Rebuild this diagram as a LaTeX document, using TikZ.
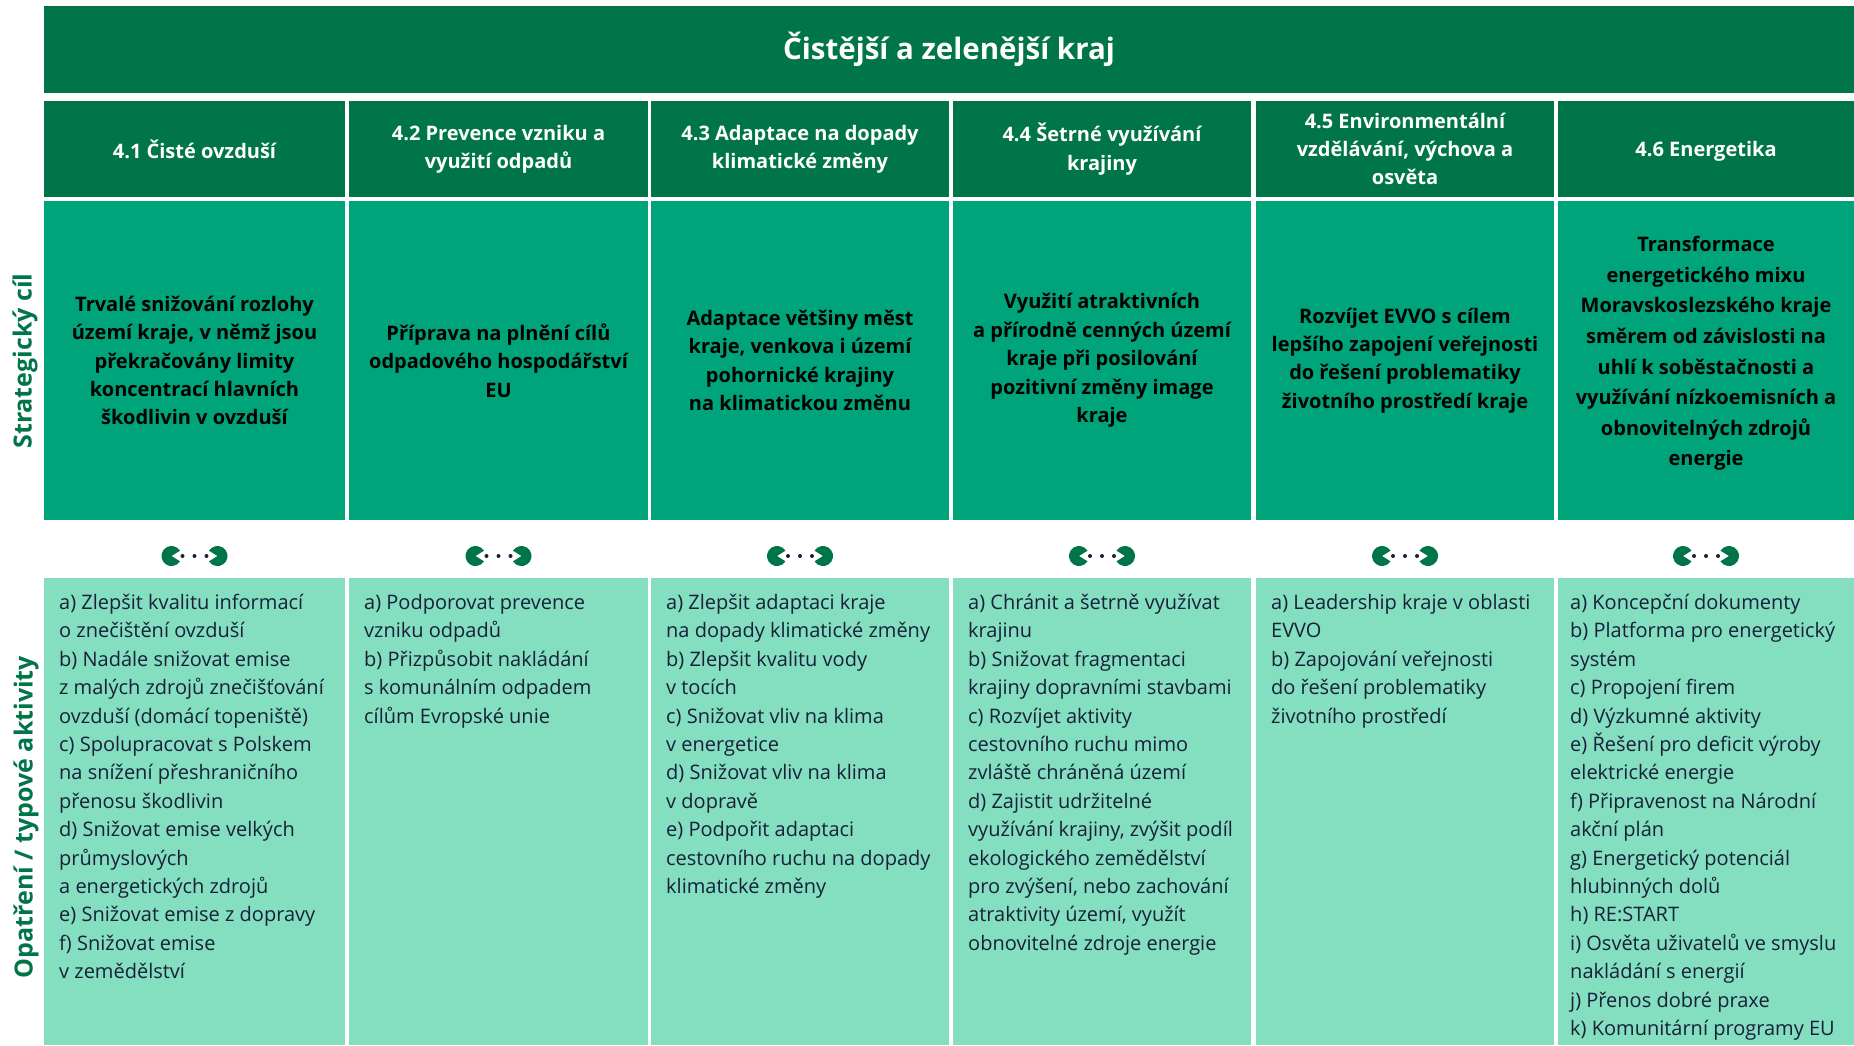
\documentclass[tikz,border=0pt]{standalone}
\usepackage{fontspec}
\usepackage{xcolor}
\usepackage{tikz}
\setmainfont{Open Sans}

\definecolor{titlegreen}{RGB}{0,117,74}
\definecolor{goalgreen}{RGB}{0,164,122}
\definecolor{actmint}{RGB}{132,222,192}
\definecolor{actnavy}{RGB}{24,32,58}

\tikzset{
  cell/.style={rectangle, draw=none, inner sep=0pt, outer sep=0pt},
  hdrtext/.style={text=white, align=center, font=\bfseries\fontsize{20}{28.4}\selectfont},
  goaltext/.style={text=black, align=center, font=\bfseries\fontsize{20}{28.4}\selectfont},
  acttext/.style={text=actnavy, align=left, anchor=north west, inner sep=0pt, font=\fontsize{20}{28.4}\selectfont},
  sidelabel/.style={text=titlegreen, rotate=90, font=\bfseries\fontsize{25}{28}\selectfont}
}

\begin{document}
\begin{tikzpicture}[x=1pt, y=-1pt]
  \useasboundingbox[fill=white] (0,0) rectangle (1854,1045);

  % Draw title bar
  \node[cell, fill=titlegreen, minimum width=1810pt, minimum height=87pt] (title) at (949,49.5) {};
  \node[text=white, font=\bfseries\fontsize{29.5}{32}\selectfont] (titletext) at (title) {Čistější a zelenější kraj};

  % Draw the three rows of cells, column by column
  \foreach \i/\xl/\xr in {1/44/345, 2/349/648, 3/651/949, 4/953/1251, 5/1256/1554, 6/1558/1854}{
    \node[cell, fill=titlegreen, minimum width={(\xr-\xl)*1pt}, minimum height=96pt] (h\i) at ({(\xl+\xr)/2},149) {};
    \node[cell, fill=goalgreen, minimum width={(\xr-\xl)*1pt}, minimum height=319pt] (g\i) at ({(\xl+\xr)/2},360.5) {};
    \node[cell, fill=actmint, minimum width={(\xr-\xl)*1pt}, minimum height=467pt] (a\i) at ({(\xl+\xr)/2},811.5) {};
    % link icon
    \coordinate (ic\i) at ({(\xl+\xr)/2},556);
    \fill[titlegreen] ([xshift=-23pt]ic\i) -- +(32:10pt) arc[start angle=32, end angle=328, radius=10pt] -- cycle;
    \fill[titlegreen] ([xshift=23pt]ic\i) -- +(148:10pt) arc[start angle=148, end angle=-148, radius=10pt] -- cycle;
    \fill[actnavy] ([xshift=-12pt]ic\i) circle[radius=2pt];
    \fill[actnavy] (ic\i) circle[radius=2pt];
    \fill[actnavy] ([xshift=12pt]ic\i) circle[radius=2pt];
  }

  % Row labels
  \node[sidelabel] (lblgoal) at (25,361) {Strategický cíl};
  \node[sidelabel] (lblact) at (26,817) {Opatření / typové aktivity};

  % Column headings
  \node[hdrtext] (ht1) at (h1) {4.1 Čisté ovzduší};
  \node[hdrtext] (ht2) at (h2) {4.2 Prevence vzniku a\\využití odpadů};
  \node[hdrtext] (ht3) at (h3) {4.3 Adaptace na dopady\\klimatické změny};
  \node[hdrtext] (ht4) at (h4) {4.4 Šetrné využívání\\krajiny};
  \node[hdrtext] (ht5) at (h5) {4.5 Environmentální\\vzdělávání, výchova a\\osvěta};
  \node[hdrtext] (ht6) at ([yshift=-2pt]h6) {4.6 Energetika};

  % Strategic goals
  \node[goaltext] (gt1) at (g1) {Trvalé snižování rozlohy\\území kraje, v němž jsou\\překračovány limity\\koncentrací hlavních\\škodlivin v ovzduší};
  \node[goaltext] (gt2) at (g2) {Příprava na plnění cílů\\odpadového hospodářství\\EU};
  \node[goaltext] (gt3) at (g3) {Adaptace většiny měst\\kraje, venkova i území\\pohornické krajiny\\na klimatickou změnu};
  \node[goaltext] (gt4) at (g4) {Využití atraktivních\\a přírodně cenných území\\kraje při posilování\\pozitivní změny image\\kraje};
  \node[goaltext] (gt5) at (g5) {Rozvíjet EVVO s cílem\\lepšího zapojení veřejnosti\\do řešení problematiky\\životního prostředí kraje};
  \node[goaltext, font=\bfseries\fontsize{20}{30.6}\selectfont] (gt6) at ([yshift=7pt]g6) {Transformace\\energetického mixu\\Moravskoslezského kraje\\směrem od závislosti na\\uhlí k soběstačnosti a\\využívání nízkoemisních a\\obnovitelných zdrojů\\energie};

  % Measures / typical activities
  \node[acttext] (at1) at ([xshift=15pt,yshift=-16pt]a1.north west) {a) Zlepšit kvalitu informací\\o znečištění ovzduší\\b) Nadále snižovat emise\\z malých zdrojů znečišťování\\ovzduší (domácí topeniště)\\c) Spolupracovat s Polskem\\na snížení přeshraničního\\přenosu škodlivin\\d) Snižovat emise velkých\\průmyslových\\a energetických zdrojů\\e) Snižovat emise z dopravy\\f) Snižovat emise\\v zemědělství};
  \node[acttext] (at2) at ([xshift=15pt,yshift=-16pt]a2.north west) {a) Podporovat prevence\\vzniku odpadů\\b) Přizpůsobit nakládání\\s komunálním odpadem\\cílům Evropské unie};
  \node[acttext] (at3) at ([xshift=15pt,yshift=-16pt]a3.north west) {a) Zlepšit adaptaci kraje\\na dopady klimatické změny\\b) Zlepšit kvalitu vody\\v tocích\\c) Snižovat vliv na klima\\v energetice\\d) Snižovat vliv na klima\\v dopravě\\e) Podpořit adaptaci\\cestovního ruchu na dopady\\klimatické změny};
  \node[acttext] (at4) at ([xshift=15pt,yshift=-16pt]a4.north west) {a) Chránit a šetrně využívat\\krajinu\\b) Snižovat fragmentaci\\krajiny dopravními stavbami\\c) Rozvíjet aktivity\\cestovního ruchu mimo\\zvláště chráněná území\\d) Zajistit udržitelné\\využívání krajiny, zvýšit podíl\\ekologického zemědělství\\pro zvýšení, nebo zachování\\atraktivity území, využít\\obnovitelné zdroje energie};
  \node[acttext] (at5) at ([xshift=15pt,yshift=-16pt]a5.north west) {a) Leadership kraje v oblasti\\EVVO\\b) Zapojování veřejnosti\\do řešení problematiky\\životního prostředí};
  \node[acttext] (at6) at ([xshift=12pt,yshift=-16pt]a6.north west) {a) Koncepční dokumenty\\b) Platforma pro energetický\\systém\\c) Propojení firem\\d) Výzkumné aktivity\\e) Řešení pro deficit výroby\\elektrické energie\\f) Připravenost na Národní\\akční plán\\g) Energetický potenciál\\hlubinných dolů\\h) RE:START\\i) Osvěta uživatelů ve smyslu\\nakládání s energií\\j) Přenos dobré praxe\\k) Komunitární programy EU};
\end{tikzpicture}
\end{document}
